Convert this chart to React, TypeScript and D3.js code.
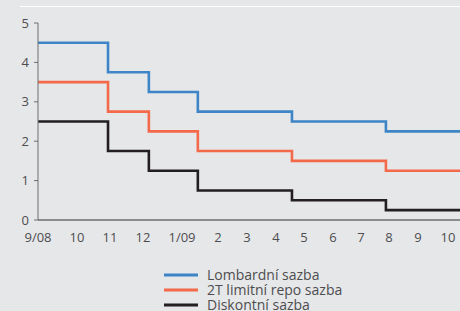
import * as d3 from 'd3'

// ČNB sazby 9/2008 – 10/2009, krokově (stav po každém rozhodnutí)
const MONTHS = ['9/08', '10', '11', '12', '1/09', '2', '3', '4', '5', '6', '7', '8', '9', '10']
const STEP_AT = [0, 1.94, 3.15, 4.44, 7.57, 10.89] // index měsíce, kde sazba začíná platit
const END_AT = 13.42
const LOMBARD = [4.5, 3.75, 3.25, 2.75, 2.5, 2.25]
const REPO = [3.5, 2.75, 2.25, 1.75, 1.5, 1.25]
const DISCOUNT = [2.5, 1.75, 1.25, 0.75, 0.5, 0.25]
const Y_TICKS = [0, 1, 2, 3, 4, 5]

const SERIES = [
  { name: 'Lombardní sazba', values: LOMBARD, color: '#3d85c6' },
  { name: '2T limitní repo sazba', values: REPO, color: '#f4694a' },
  { name: 'Diskontní sazba', values: DISCOUNT, color: '#231f20' },
]

// popisky měsíců v originále nejsou rozmístěny rovnoměrně
const LABEL_PX = [38, 77, 110, 143, 182, 218, 247, 276, 304, 333, 361, 389, 418, 448]

const W = 460, H = 311
const FONT = '"Open Sans", sans-serif'

export default function App() {
  const x = d3.scaleLinear().domain(MONTHS.map((_, i) => i)).range(LABEL_PX)
  const y = d3.scaleLinear().domain([0, 5]).range([220, 23])

  const line = d3.line<[number, number]>()
    .x(d => x(d[0]))
    .y(d => y(d[1]))
    .curve(d3.curveStepAfter)

  const pts = (vals: number[]): [number, number][] => [
    ...vals.map((v, i) => [STEP_AT[i], v] as [number, number]),
    [END_AT, vals[vals.length - 1]],
  ]

  const x0 = x(0)

  return (
    <svg width={W} height={H} style={{ position: 'absolute', left: 0, top: 0, background: '#e6e7e9' }}
      fontFamily={FONT}>
      <rect width={W} height={H} fill="#e6e7e9" />
      <line x1={20} x2={W} y1={6.5} y2={6.5} stroke="#fff" strokeWidth={1.2} />

      {SERIES.map(s => (
        <path key={s.name} d={line(pts(s.values)) || ''} fill="none" stroke={s.color}
          strokeWidth={2.6} strokeLinejoin="miter" />
      ))}

      {/* osa y */}
      <line x1={x0} x2={x0} y1={y(5)} y2={y(0)} stroke="#6d6e71" strokeWidth={1} />
      {Y_TICKS.map(t => (
        <g key={t} transform={`translate(0,${y(t)})`}>
          <line x1={x0 - 4} x2={x0} stroke="#6d6e71" strokeWidth={1} />
          <text x={x0 - 9} dy="0.35em" textAnchor="end" fontSize={13} fill="#4d4d4f">{t}</text>
        </g>
      ))}

      {/* osa x */}
      <line x1={x0} x2={W} y1={y(0)} y2={y(0)} stroke="#333" strokeWidth={1.2} />
      {MONTHS.map((m, i) => (
        <text key={i} x={x(i)} y={242} textAnchor="middle" fontSize={13} fill="#4d4d4f">{m}</text>
      ))}

      {/* legenda */}
      {SERIES.map((s, i) => (
        <g key={s.name} transform={`translate(164,${275 + i * 15})`}>
          <line x1={0} x2={34} stroke={s.color} strokeWidth={2.8} />
          <text x={43} y={5} fontSize={14} fill="#4d4d4f">{s.name}</text>
        </g>
      ))}
    </svg>
  )
}
